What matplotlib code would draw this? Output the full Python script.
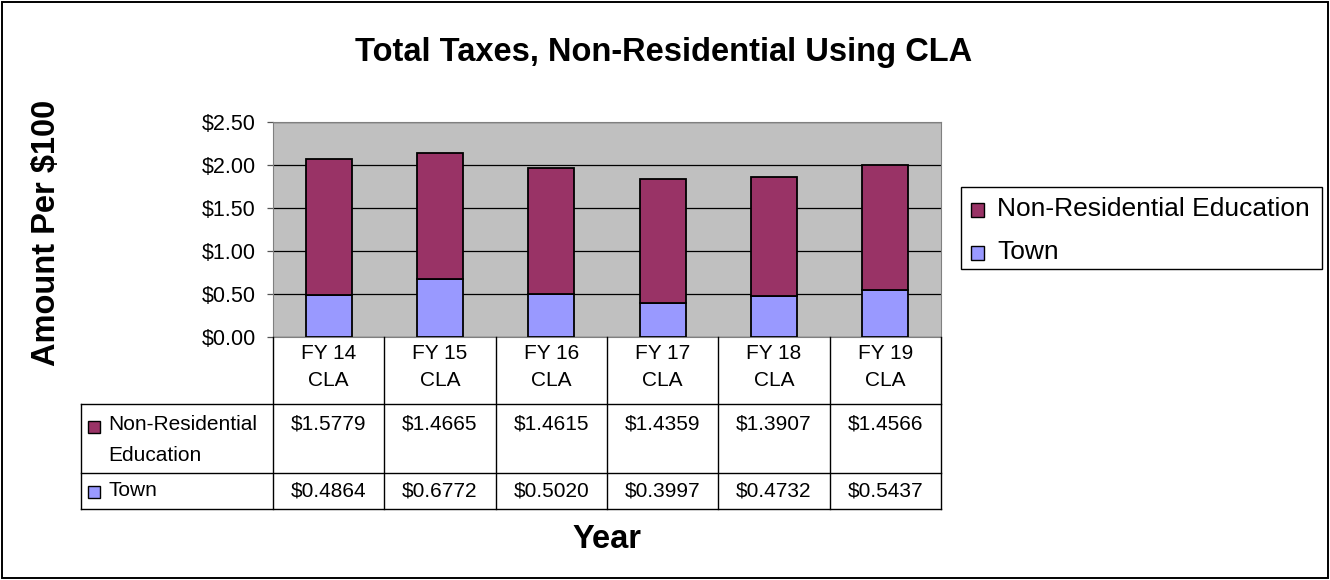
import matplotlib.pyplot as plt
import numpy as np
from matplotlib.lines import Line2D
from matplotlib.patches import Rectangle

plt.rcParams['font.family'] = ['Liberation Sans', 'DejaVu Sans']

years = ["FY 14\nCLA", "FY 15\nCLA", "FY 16\nCLA", "FY 17\nCLA", "FY 18\nCLA", "FY 19\nCLA"]
education = [1.5779, 1.4665, 1.4615, 1.4359, 1.3907, 1.4566]
town = [0.4864, 0.6772, 0.5020, 0.3997, 0.4732, 0.5437]
series_names = ["Non-Residential\nEducation", "Town"]
legend_names = ["Non-Residential Education", "Town"]
y_ticks = [0.0, 0.5, 1.0, 1.5, 2.0, 2.5]

edu_color = '#993366'
town_color = '#9999FF'

W, H = 1330, 580
fig = plt.figure(figsize=(W / 100, H / 100), dpi=100)

def fx(px):
    return px / W

def fy(py):
    return 1 - py / H

# outer chart border
fig.add_artist(Rectangle((fx(2), fy(578)), fx(1326), 576 / H, transform=fig.transFigure,
                         fill=False, edgecolor='black', linewidth=1.4))

# plot area
left, right, top, bottom = 273, 941, 122, 337
ax = fig.add_axes([fx(left), fy(bottom), fx(right - left), (bottom - top) / H])
ax.set_facecolor('#C0C0C0')
x = np.arange(len(years))
ax.bar(x, town, width=0.415, color=town_color, edgecolor='black', linewidth=1.3, zorder=3)
ax.bar(x, education, width=0.415, bottom=town, color=edu_color, edgecolor='black',
       linewidth=1.3, zorder=3)
ax.set_xlim(-0.5, len(years) - 0.5)
ax.set_ylim(0, 2.5)
ax.set_yticks(y_ticks)
ax.set_yticklabels([f"${v:.2f}" for v in y_ticks], fontsize=15.5)
ax.yaxis.grid(True, color='black', linewidth=0.9, zorder=1)
ax.set_xticks([])
ax.tick_params(axis='y', length=4.5, width=0.9, color='#555555', pad=8)
for s in ax.spines.values():
    s.set_color('#808080')

# data table under the plot
col_edges = np.linspace(left, right, len(years) + 1)
table_left = 81
row_lines = [404, 473, 509]
line_kw = dict(color='black', linewidth=1.0, transform=fig.transFigure)

for cx in col_edges:
    fig.add_artist(Line2D([fx(cx), fx(cx)], [fy(bottom), fy(509)], **line_kw))
fig.add_artist(Line2D([fx(table_left), fx(table_left)], [fy(404), fy(509)], **line_kw))
for ry in row_lines:
    fig.add_artist(Line2D([fx(table_left), fx(right)], [fy(ry), fy(ry)], **line_kw))

for i, lab in enumerate(years):
    cx = (col_edges[i] + col_edges[i + 1]) / 2
    fig.text(fx(cx), fy(367), lab, ha='center', va='center', fontsize=15, linespacing=1.55)
    fig.text(fx(cx), fy(424), f"${education[i]:.4f}", ha='center', va='center', fontsize=15)
    fig.text(fx(cx), fy(491), f"${town[i]:.4f}", ha='center', va='center', fontsize=15)

for name, col, yc, yt in [(series_names[0], edu_color, 427, 440), (series_names[1], town_color, 492, 491)]:
    fig.add_artist(Rectangle((fx(88), fy(yc + 6)), fx(12), 12 / H, transform=fig.transFigure,
                             facecolor=col, edgecolor='black', linewidth=1.0))
    fig.text(fx(108), fy(yt), name, ha='left', va='center', fontsize=15, linespacing=1.75)

# legend
fig.add_artist(Rectangle((fx(961), fy(269)), fx(361), 82 / H, transform=fig.transFigure,
                         fill=False, edgecolor='black', linewidth=1.0))
for name, col, yc in [(legend_names[0], edu_color, 210), (legend_names[1], town_color, 253)]:
    fig.add_artist(Rectangle((fx(971), fy(yc + 7)), fx(13), 14 / H, transform=fig.transFigure,
                             facecolor=col, edgecolor='black', linewidth=1.0))
    fig.text(fx(997), fy(yc - 1), name, ha='left', va='center', fontsize=19)

fig.text(fx(664), fy(52), "Total Taxes, Non-Residential Using CLA", ha='center', va='center',
         fontsize=23.5, fontweight='bold')
fig.text(fx(47), fy(233), "Amount Per $100", ha='center', va='center', rotation=90,
         fontsize=23.5, fontweight='bold')
fig.text(fx(607), fy(540), "Year", ha='center', va='center', fontsize=23.5, fontweight='bold')

fig.savefig('out.png', dpi=100)
